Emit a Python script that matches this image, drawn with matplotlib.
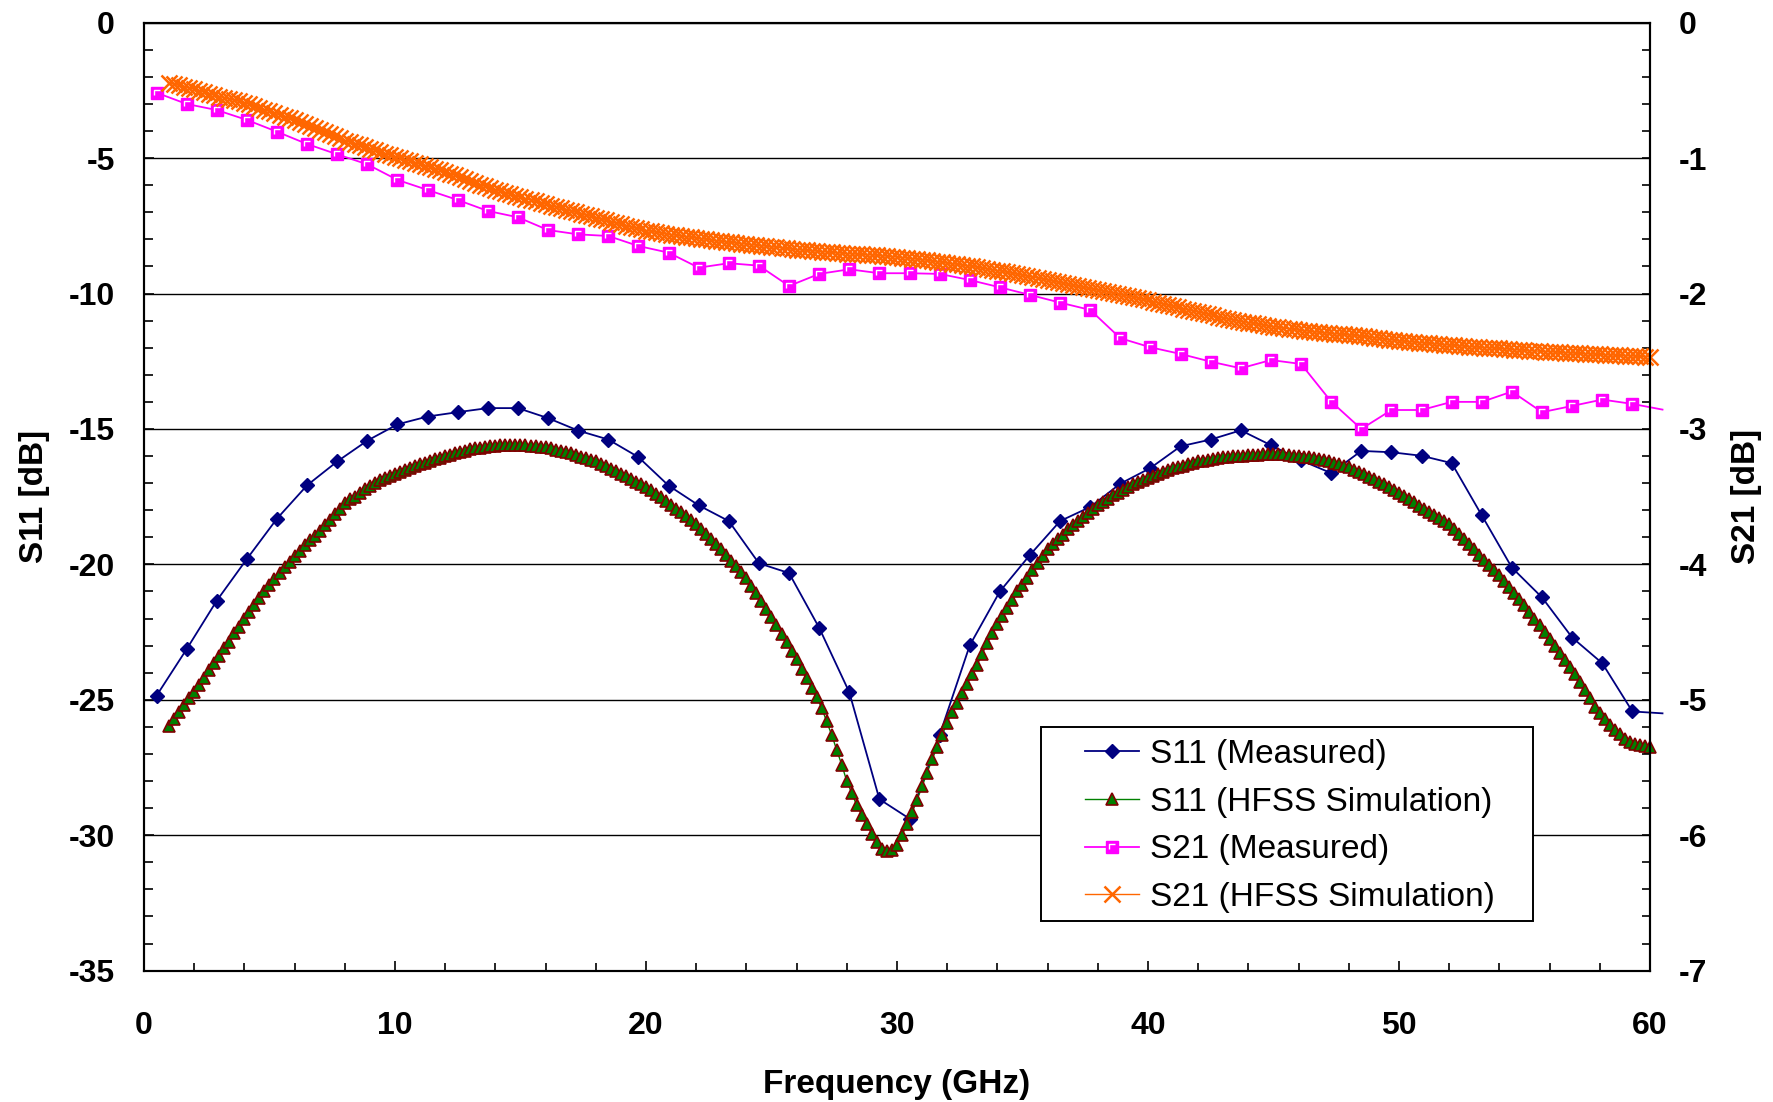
import numpy as np
import matplotlib
matplotlib.use('Agg')
import matplotlib.pyplot as plt
from matplotlib.ticker import MultipleLocator
from matplotlib.patches import Rectangle
from matplotlib.path import Path
from matplotlib.legend_handler import HandlerTuple

plt.rcParams['font.family'] = 'Liberation Sans'
plt.rcParams['font.weight'] = 'bold'
plt.rcParams['axes.labelweight'] = 'bold'
plt.rcParams['axes.unicode_minus'] = False

# measured sweep (1.2 GHz step)
f_meas = [0.5, 1.7, 2.9, 4.1, 5.3, 6.5, 7.7, 8.9, 10.1, 11.3,
          12.5, 13.7, 14.9, 16.1, 17.3, 18.5, 19.7, 20.9, 22.1, 23.3,
          24.5, 25.7, 26.9, 28.1, 29.3, 30.5, 31.7, 32.9, 34.1, 35.3,
          36.5, 37.7, 38.9, 40.1, 41.3, 42.5, 43.7, 44.9, 46.1, 47.3,
          48.5, 49.7, 50.9, 52.1, 53.3, 54.5, 55.7, 56.9, 58.1, 59.3, 60.5]
s11_meas = [-24.85, -23.13, -21.34, -19.8, -18.31, -17.08, -16.2, -15.43, -14.83, -14.54,
            -14.38, -14.23, -14.23, -14.6, -15.06, -15.39, -16.04, -17.09, -17.82, -18.4,
            -19.96, -20.32, -22.34, -24.72, -28.67, -29.39, -26.3, -22.99, -21.0, -19.65,
            -18.4, -17.88, -17.02, -16.44, -15.64, -15.39, -15.05, -15.6, -16.16, -16.63,
            -15.81, -15.86, -15.99, -16.26, -18.19, -20.12, -21.22, -22.7, -23.65, -25.43, -25.5]
s21_meas = [-0.517, -0.6, -0.645, -0.718, -0.805, -0.896, -0.972, -1.046, -1.161, -1.235,
            -1.309, -1.39, -1.437, -1.531, -1.563, -1.575, -1.649, -1.698, -1.809, -1.776,
            -1.794, -1.944, -1.855, -1.821, -1.85, -1.85, -1.855, -1.9, -1.954, -2.01,
            -2.067, -2.121, -2.33, -2.397, -2.446, -2.503, -2.552, -2.491, -2.52, -2.798,
            -3.0, -2.86, -2.86, -2.8, -2.8, -2.724, -2.876, -2.83, -2.783, -2.815, -2.857]

# HFSS sweep, 1 to 60 GHz, 0.2 GHz step
f_sim = np.round(np.arange(1.0, 60.0001, 0.2), 1)
s11_sim = [
    -25.95, -25.7, -25.45, -25.2, -24.95, -24.7, -24.45, -24.2, -23.9, -23.65,
    -23.4, -23.1, -22.85, -22.55, -22.3, -22.0, -21.75, -21.5, -21.25, -21.0,
    -20.75, -20.55, -20.3, -20.1, -19.9, -19.7, -19.5, -19.3, -19.1, -18.95,
    -18.75, -18.55, -18.35, -18.15, -17.95, -17.75, -17.6, -17.5, -17.35, -17.2,
    -17.1, -17.0, -16.9, -16.8, -16.72, -16.65, -16.58, -16.5, -16.43, -16.37,
    -16.3, -16.24, -16.18, -16.12, -16.06, -16.0, -15.95, -15.9, -15.85, -15.8,
    -15.75, -15.72, -15.69, -15.66, -15.64, -15.62, -15.61, -15.6, -15.6, -15.6,
    -15.6, -15.61, -15.62, -15.64, -15.66, -15.68, -15.72, -15.76, -15.81, -15.85,
    -15.9, -15.96, -16.02, -16.08, -16.14, -16.2, -16.29, -16.38, -16.47, -16.56,
    -16.65, -16.75, -16.85, -16.94, -17.03, -17.13, -17.26, -17.4, -17.53, -17.67,
    -17.8, -17.94, -18.08, -18.22, -18.36, -18.5, -18.68, -18.87, -19.06, -19.25,
    -19.45, -19.65, -19.86, -20.07, -20.28, -20.5, -20.78, -21.07, -21.36, -21.65,
    -21.95, -22.25, -22.56, -22.87, -23.18, -23.5, -23.85, -24.2, -24.55, -24.9,
    -25.3, -25.8, -26.3, -26.85, -27.4, -28.0, -28.45, -28.9, -29.25, -29.6,
    -29.95, -30.25, -30.5, -30.6, -30.55, -30.35, -30.0, -29.6, -29.15, -28.7,
    -28.2, -27.7, -27.2, -26.75, -26.3, -25.85, -25.45, -25.1, -24.75, -24.4,
    -24.05, -23.7, -23.3, -22.9, -22.55, -22.2, -21.9, -21.6, -21.3, -21.0,
    -20.75, -20.5, -20.2, -19.95, -19.7, -19.45, -19.25, -19.05, -18.9, -18.7,
    -18.55, -18.4, -18.25, -18.1, -17.95, -17.8, -17.7, -17.6, -17.45, -17.35,
    -17.25, -17.15, -17.05, -16.95, -16.88, -16.8, -16.73, -16.66, -16.59, -16.52,
    -16.45, -16.4, -16.35, -16.3, -16.25, -16.2, -16.17, -16.14, -16.11, -16.08,
    -16.05, -16.03, -16.01, -16.0, -15.98, -15.97, -15.96, -15.95, -15.94, -15.93,
    -15.93, -15.93, -15.94, -15.96, -15.98, -16.0, -16.02, -16.05, -16.08, -16.1,
    -16.13, -16.18, -16.24, -16.3, -16.36, -16.42, -16.5, -16.59, -16.68, -16.77,
    -16.85, -16.95, -17.05, -17.15, -17.25, -17.35, -17.47, -17.59, -17.71, -17.83,
    -17.95, -18.06, -18.17, -18.28, -18.39, -18.5, -18.68, -18.87, -19.06, -19.25,
    -19.45, -19.64, -19.83, -20.02, -20.21, -20.4, -20.62, -20.84, -21.06, -21.28,
    -21.5, -21.75, -22.0, -22.25, -22.5, -22.75, -23.01, -23.27, -23.53, -23.79,
    -24.05, -24.35, -24.65, -24.95, -25.25, -25.5, -25.72, -25.92, -26.1, -26.25,
    -26.45, -26.55, -26.62, -26.67, -26.7, -26.73]
s21_sim = [
    -0.445, -0.454, -0.463, -0.472, -0.481, -0.49, -0.501, -0.512, -0.523, -0.534,
    -0.545, -0.554, -0.563, -0.572, -0.581, -0.59, -0.603, -0.616, -0.629, -0.642,
    -0.655, -0.668, -0.681, -0.694, -0.707, -0.72, -0.734, -0.748, -0.762, -0.776,
    -0.79, -0.806, -0.822, -0.838, -0.854, -0.87, -0.882, -0.894, -0.906, -0.918,
    -0.93, -0.942, -0.954, -0.966, -0.978, -0.99, -1.001, -1.012, -1.023, -1.034,
    -1.045, -1.056, -1.067, -1.078, -1.089, -1.1, -1.114, -1.128, -1.142, -1.156,
    -1.17, -1.183, -1.196, -1.209, -1.222, -1.235, -1.246, -1.257, -1.268, -1.279,
    -1.29, -1.3, -1.31, -1.32, -1.33, -1.34, -1.35, -1.36, -1.37, -1.38,
    -1.39, -1.4, -1.41, -1.42, -1.43, -1.44, -1.45, -1.46, -1.47, -1.48,
    -1.49, -1.499, -1.508, -1.517, -1.526, -1.535, -1.541, -1.547, -1.553, -1.559,
    -1.565, -1.57, -1.575, -1.58, -1.585, -1.59, -1.595, -1.6, -1.605, -1.61,
    -1.615, -1.619, -1.623, -1.627, -1.631, -1.635, -1.639, -1.643, -1.647, -1.651,
    -1.655, -1.659, -1.663, -1.667, -1.671, -1.675, -1.678, -1.681, -1.684, -1.687,
    -1.69, -1.693, -1.696, -1.699, -1.702, -1.705, -1.707, -1.709, -1.711, -1.713,
    -1.715, -1.718, -1.721, -1.724, -1.727, -1.73, -1.734, -1.738, -1.742, -1.746,
    -1.75, -1.755, -1.76, -1.765, -1.77, -1.775, -1.78, -1.785, -1.79, -1.795,
    -1.8, -1.806, -1.812, -1.818, -1.824, -1.83, -1.837, -1.844, -1.851, -1.858,
    -1.865, -1.872, -1.879, -1.886, -1.893, -1.9, -1.908, -1.916, -1.924, -1.932,
    -1.94, -1.947, -1.954, -1.961, -1.968, -1.975, -1.982, -1.989, -1.996, -2.003,
    -2.01, -2.018, -2.026, -2.034, -2.042, -2.05, -2.059, -2.068, -2.077, -2.086,
    -2.095, -2.103, -2.111, -2.119, -2.127, -2.135, -2.144, -2.153, -2.162, -2.171,
    -2.18, -2.187, -2.194, -2.201, -2.208, -2.215, -2.221, -2.227, -2.233, -2.239,
    -2.245, -2.25, -2.255, -2.26, -2.265, -2.27, -2.274, -2.278, -2.282, -2.286,
    -2.29, -2.293, -2.296, -2.299, -2.302, -2.305, -2.309, -2.313, -2.317, -2.321,
    -2.325, -2.33, -2.335, -2.34, -2.345, -2.35, -2.353, -2.356, -2.359, -2.362,
    -2.365, -2.368, -2.371, -2.374, -2.377, -2.38, -2.383, -2.386, -2.389, -2.392,
    -2.395, -2.397, -2.399, -2.401, -2.403, -2.405, -2.408, -2.411, -2.414, -2.417,
    -2.42, -2.422, -2.424, -2.426, -2.428, -2.43, -2.432, -2.434, -2.436, -2.438,
    -2.44, -2.442, -2.444, -2.446, -2.448, -2.45, -2.452, -2.454, -2.455, -2.457,
    -2.458, -2.46, -2.462, -2.464, -2.465, -2.466]

labels = ['S11 (Measured)', 'S11 (HFSS Simulation)',
          'S21 (Measured)', 'S21 (HFSS Simulation)']

fig = plt.figure(figsize=(17.73, 11.02), dpi=100)
ax = fig.add_axes([0.0812, 0.1192, 0.8494, 0.8602])
ax2 = ax.twinx()

ax.grid(axis='y', which='major', color='black', lw=1.0)
ax.set_axisbelow(True)

# white corner highlight inside the Excel-style square markers
corner = Path([(-1.0, -0.7), (-1.0, 1.0), (0.8, 1.0)], [Path.MOVETO, Path.LINETO, Path.LINETO])

l1, = ax.plot(f_meas, s11_meas, color='#000080', lw=1.3, marker='D', ms=7.5,
              mfc='#000080', mec='#000080', markevery=slice(0, 50), clip_on=False)
l2, = ax.plot(f_sim, s11_sim, color='#008000', lw=1.0, marker='^', ms=9,
              mfc='#008000', mec='#800000', mew=1.2, clip_on=False)
l3, = ax2.plot(f_meas, s21_meas, color='#FF00FF', lw=1.3, marker='s', ms=8.5,
               mfc='#FF00FF', mec='#FF00FF', markevery=slice(0, 50), clip_on=False)
l3w, = ax2.plot(f_meas[:50], s21_meas[:50], ls='none', marker=corner, ms=5,
                mfc='none', mec='white', mew=1.0, clip_on=False)
l4, = ax2.plot(f_sim, s21_sim, color='#FF6600', lw=1.0, marker='x', ms=12,
               mew=1.8, clip_on=False)

ax.set_xlim(0, 60)
ax.set_ylim(-35, 0)
ax2.set_ylim(-7, 0)

ax.xaxis.set_major_locator(MultipleLocator(10))
ax.xaxis.set_minor_locator(MultipleLocator(2))
ax.yaxis.set_major_locator(MultipleLocator(5))
ax.yaxis.set_minor_locator(MultipleLocator(1))
ax2.yaxis.set_major_locator(MultipleLocator(1))
ax2.yaxis.set_minor_locator(MultipleLocator(0.2))

ax.tick_params(axis='both', which='both', direction='in', width=1.2, labelsize=23)
ax.tick_params(axis='y', which='major', length=7.5, pad=21)
ax.tick_params(axis='y', which='minor', length=6.5)
ax.tick_params(axis='x', which='major', length=7.5, pad=29)
ax.tick_params(axis='x', which='minor', length=6)
ax2.tick_params(axis='y', which='both', direction='in', width=1.2, labelsize=23)
ax2.tick_params(axis='y', which='major', length=6, pad=21)
ax2.tick_params(axis='y', which='minor', length=5.5)

for a in (ax, ax2):
    for s in a.spines.values():
        s.set_linewidth(1.5)
for t in ax.get_xticklabels() + ax.get_yticklabels() + ax2.get_yticklabels():
    t.set_fontweight('bold')

ax.set_xlabel('Frequency (GHz)', fontsize=24, fontweight='bold')
ax.xaxis.set_label_coords(0.5, -0.104)
ax.set_ylabel('S11 [dB]', fontsize=24, fontweight='bold')
ax.yaxis.set_label_coords(-0.0624, 0.5)
ax2.set_ylabel('S21 [dB]', fontsize=24, fontweight='bold')
ax2.yaxis.set_label_coords(1.054, 0.5)

box = Rectangle((0.5956, 0.0519), 0.3267, 0.2052, transform=ax2.transAxes,
                facecolor='white', edgecolor='black', lw=1.4, zorder=5)
ax2.add_patch(box)
leg = ax2.legend([l1, l2, (l3, l3w), l4], labels, loc='center', bbox_to_anchor=(0.761, 0.1525),
                 frameon=False, prop={'size': 24, 'weight': 'normal'},
                 handler_map={tuple: HandlerTuple(ndivide=1)},
                 handlelength=1.62, handletextpad=0.33, labelspacing=0.5, borderpad=0)
leg.set_zorder(6)

fig.savefig('out.png', dpi=100)
